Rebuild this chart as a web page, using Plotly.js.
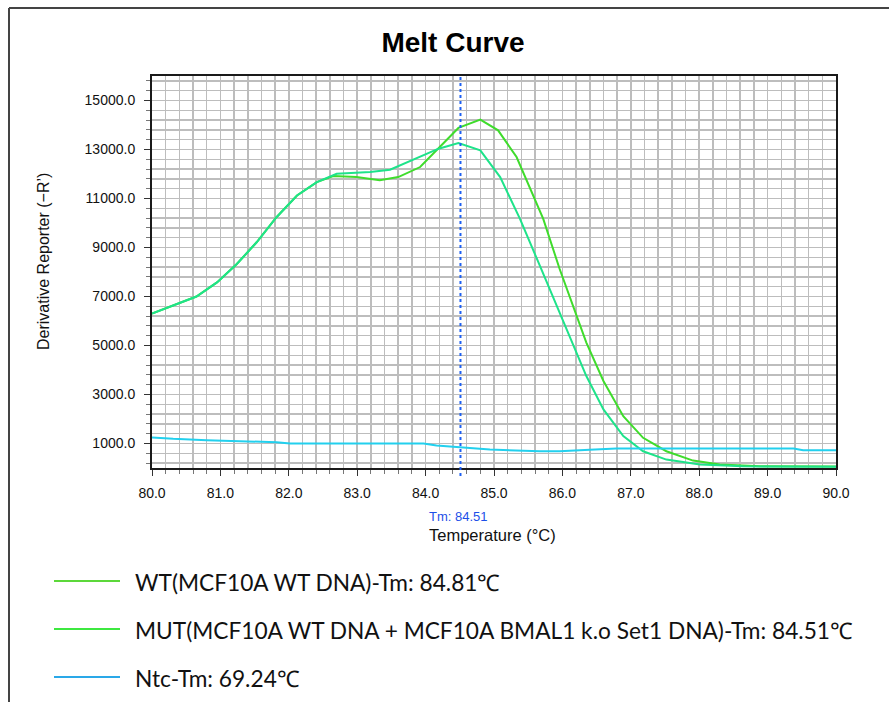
<!DOCTYPE html>
<html>
<head>
<meta charset="utf-8">
<script src="https://cdn.plot.ly/plotly-3.0.1.min.js"></script>
<style>
  html, body { margin: 0; padding: 0; background: #ffffff; }
  #chart { width: 889px; height: 702px; }
</style>
</head>
<body>
<div id="chart"></div>
<script>
// Melt curve: derivative reporter (-R') against temperature (°C)

const seriesNames = [
  "WT(MCF10A WT DNA)-Tm: 84.81\u2103",
  "MUT(MCF10A WT DNA + MCF10A BMAL1 k.o Set1 DNA)-Tm: 84.51\u2103",
  "Ntc-Tm: 69.24\u2103"
];

const wtTemp = [80.0, 80.65, 80.95, 81.24, 81.53, 81.82, 82.12, 82.41, 82.65, 82.99, 83.33, 83.60, 83.92, 84.19, 84.48, 84.80, 85.06, 85.33, 85.72, 85.96, 86.16, 86.35, 86.60, 86.89, 87.18, 87.52, 87.91, 88.30, 88.89, 90.0];
const wtValue = [6300, 7000, 7575, 8325, 9214, 10237, 11121, 11670, 11916, 11875, 11750, 11874, 12284, 13033, 13880, 14220, 13783, 12692, 10168, 8121, 6619, 5120, 3550, 2117, 1232, 684, 303, 139, 70, 60];

const mutTemp = [80.0, 80.65, 80.95, 81.24, 81.53, 81.82, 82.12, 82.41, 82.70, 83.19, 83.48, 83.63, 83.92, 84.19, 84.48, 84.80, 85.09, 85.38, 85.67, 85.92, 86.16, 86.35, 86.60, 86.89, 87.18, 87.52, 88.01, 88.64, 90.0];
const mutValue = [6300, 7000, 7575, 8325, 9214, 10237, 11121, 11670, 12010, 12080, 12174, 12350, 12692, 13033, 13260, 12964, 11874, 10168, 8257, 6619, 4982, 3754, 2390, 1300, 684, 344, 139, 70, 50];

const ntcTemp = [80.0, 80.31, 80.80, 81.24, 81.82, 82.02, 83.97, 84.16, 84.45, 84.77, 84.94, 85.67, 85.96, 86.40, 86.79, 89.38, 89.52, 90.0];
const ntcValue = [1250, 1190, 1134, 1093, 1052, 1000, 1000, 917, 864, 782, 753, 684, 684, 740, 794, 794, 725, 725];

const tmMarker = 84.51;
const xTickValues = [80, 81, 82, 83, 84, 85, 86, 87, 88, 89, 90];
const yTickValues = [1000, 3000, 5000, 7000, 9000, 11000, 13000, 15000];

const traceColors = ["#3fdc2c", "#1ee38a", "#22d0ee"];
const legendColors = ["#5cd83a", "#3ee840", "#2aa8e8"];

// plot-area geometry in page pixels
const W = 889, H = 702;
const plotL = 152, plotR = 836, plotT = 76, plotB = 468;
const px = p => (p - plotL) / (plotR - plotL);
const py = p => (plotB - p) / (plotB - plotT);

const traces = [
  { x: wtTemp, y: wtValue, name: seriesNames[0] },
  { x: mutTemp, y: mutValue, name: seriesNames[1] },
  { x: ntcTemp, y: ntcValue, name: seriesNames[2] }
].map((t, i) => ({
  type: "scatter", mode: "lines", x: t.x, y: t.y, name: t.name,
  line: { color: traceColors[i], width: 2 }, showlegend: false, hoverinfo: "x+y+name"
}));

const shapes = [
  // outer frame
  { type: "line", xref: "paper", yref: "paper", x0: px(9), x1: px(9), y0: py(8), y1: py(H + 5), line: { color: "#444", width: 2 } },
  { type: "line", xref: "paper", yref: "paper", x0: px(9), x1: px(W + 5), y0: py(8), y1: py(8), line: { color: "#444", width: 2 } },
  // Tm marker
  { type: "line", xref: "x", yref: "paper", x0: tmMarker, x1: tmMarker, y0: py(476), y1: 1, line: { color: "#1c5ff2", width: 2, dash: "dot" } }
];

const annotations = [
  { xref: "x", yref: "paper", x: tmMarker, y: py(516), text: "Tm: " + tmMarker.toFixed(2), showarrow: false, xshift: -2,
    font: { family: "Liberation Sans, Arial, sans-serif", size: 13, color: "#1c4fe8" }, xanchor: "center", yanchor: "middle" },
  { xref: "paper", yref: "paper", x: px(492), y: py(535), text: "Temperature (\u00B0C)", showarrow: false,
    font: { family: "Liberation Sans, Arial, sans-serif", size: 16.5, color: "#111" }, xanchor: "center", yanchor: "middle" },
  { xref: "paper", yref: "paper", x: px(43), y: py(262), text: "Derivative Reporter (\u2212R\u2019)", showarrow: false, textangle: -90,
    font: { family: "Liberation Sans, Arial, sans-serif", size: 16, color: "#111" }, xanchor: "center", yanchor: "middle" }
];

// legend rows below the chart
const legendRowsY = [581, 629, 677];
seriesNames.forEach((name, i) => {
  shapes.push({ type: "line", xref: "paper", yref: "paper", x0: px(54), x1: px(120), y0: py(legendRowsY[i]), y1: py(legendRowsY[i]),
    line: { color: legendColors[i], width: 2 } });
  annotations.push({ xref: "paper", yref: "paper", x: px(133), y: py(legendRowsY[i] + 1), text: name, showarrow: false,
    xanchor: "left", yanchor: "middle", font: { family: "Lato, Carlito, sans-serif", size: 22.7, color: "#111" } });
});

const axisCommon = {
  showline: true, linecolor: "#1a1a1a", linewidth: 2, mirror: true,
  showgrid: true, gridcolor: "#bdbdbd", gridwidth: 1.5,
  zeroline: false, ticks: "outside", ticklen: 6, tickcolor: "#333",
  tickfont: { family: "Liberation Sans, Arial, sans-serif", size: 14, color: "#111" },
  tickformat: ".1f", fixedrange: true
};

const layout = {
  width: W, height: H,
  margin: { l: plotL, r: W - plotR, t: plotT, b: H - plotB },
  paper_bgcolor: "#ffffff", plot_bgcolor: "#ffffff",
  title: { text: "<b>Melt Curve</b>", xref: "container", yref: "container", x: 453 / W, y: 1 - 42 / H,
    xanchor: "center", yanchor: "middle", font: { family: "Liberation Sans, Arial, sans-serif", size: 28, color: "#000" } },
  xaxis: Object.assign({}, axisCommon, {
    range: [80, 90], tickvals: xTickValues,
    minor: { dtick: 0.2, tick0: 80, showgrid: true, gridcolor: "#bdbdbd", gridwidth: 1.5, ticks: "outside", ticklen: 4, tickcolor: "#777" },
    ticklabelstandoff: 5
  }),
  yaxis: Object.assign({}, axisCommon, {
    range: [0, 16000], tickvals: yTickValues,
    minor: { dtick: 400, tick0: 1000, showgrid: true, gridcolor: "#bdbdbd", gridwidth: 1.5, ticks: "outside", ticklen: 4, tickcolor: "#777" },
    ticklabelstandoff: 6
  }),
  shapes: shapes,
  annotations: annotations,
  showlegend: false
};

Plotly.newPlot("chart", traces, layout, { staticPlot: true, displayModeBar: false });
</script>
</body>
</html>
